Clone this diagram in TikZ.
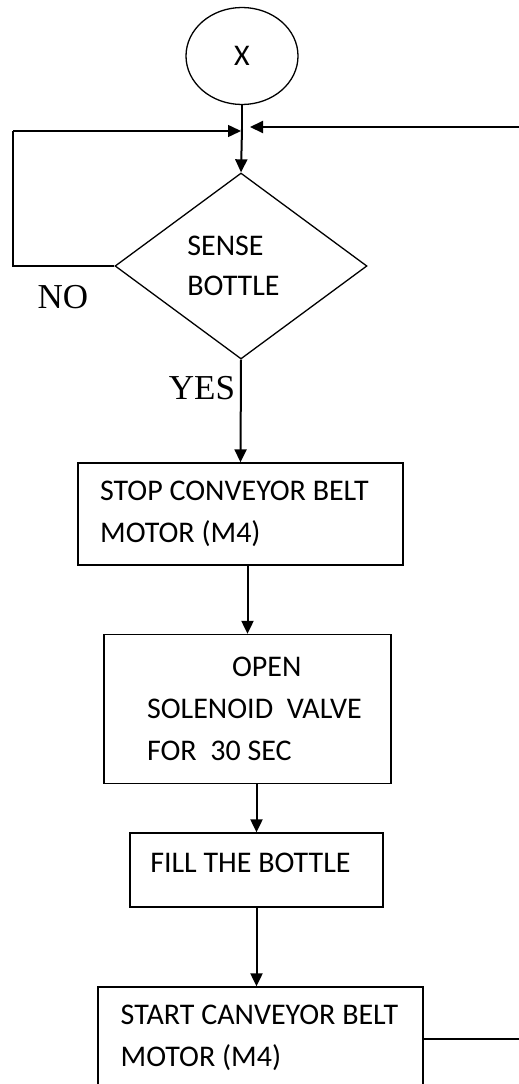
\documentclass[tikz,border=0pt]{standalone}
\usepackage{fontspec}
\setmainfont{Carlito}
\newfontfamily\answerfont{Liberation Serif}
\usetikzlibrary{arrows.meta,shapes.geometric,calc}

\begin{document}
\begin{tikzpicture}[x=1pt,y=-1pt,
    box/.style={draw, rectangle, line width=1.3pt, inner sep=0pt, align=left,
        font=\fontsize{30}{42}\selectfont},
    flow/.style={line width=2pt, -{Triangle[length=13pt,width=12pt]}},
    loop/.style={line width=1.5pt},
    answer/.style={font=\answerfont\fontsize{35}{35}\selectfont, inner sep=0pt}]

% Page (the picture is cut at the right and at the bottom)
\clip (0,0) rectangle (519,1084);

% Start point
\node[draw, ellipse, line width=1.3pt, minimum width=112pt, minimum height=97pt,
    inner sep=0pt, font=\fontsize{30}{35}\selectfont] (start) at (242,56) {X};

% Junction and decision
\coordinate (jn) at (242,129);
\node[draw, diamond, line width=1.3pt, aspect=1.355, minimum width=252pt,
    minimum height=186pt, inner sep=0pt, align=left,
    font=\fontsize{30}{40}\selectfont] (sense) at (241,266) {SENSE\\BOTTLE\hspace*{15pt}};

% Process boxes
\node[box, minimum width=325pt, minimum height=102pt] (stop) at (240.5,514)
    {STOP CONVEYOR BELT\hspace*{12pt}\\MOTOR (M4)};
\node[box, minimum width=287pt, minimum height=149pt] (valve) at (247.5,709)
    {\hspace*{99pt}OPEN\\\hspace*{14pt}SOLENOID\ \ VALVE\\\hspace*{14pt}FOR\ \ 30 SEC};
\node[box, minimum width=253pt, minimum height=74pt, text depth=14pt] (fill) at (256.5,870)
    {FILL THE BOTTLE\hspace*{12pt}};
\node[box, minimum width=325pt, minimum height=102pt] (startb) at (260.5,1038)
    {START CANVEYOR BELT\hspace*{2pt}\\MOTOR (M4)};

% Answers
\node[answer] (no) at (63,297) {NO};
\node[answer] (yes) at (202,388) {YES};

% Free ends of the loops
\coordinate (loopL) at (13,131);
\coordinate (fbIn) at (519,127);
\coordinate (fbOut) at (519,1039);

% Connectors
\draw[line width=2pt] (start) -- (jn);
\draw[flow] (jn) -- (sense.north);
\draw[loop] (sense.west) -| (loopL);
\draw[loop, -{Triangle[length=13pt,width=12pt]}] (loopL) -- ($(jn)+(-1,2)$);
\draw[flow] (fbIn) -- ($(jn)+(8,-2)$);
\draw[flow] (sense.south) -- (stop.north);
\draw[flow] (valve.north |- stop.south) -- (valve.north);
\draw[flow] (fill.north |- valve.south) -- (fill.north);
\draw[flow] (fill.south) -- (fill.south |- startb.north);
\draw[loop] (startb.east |- fbOut) -- (fbOut);

\end{tikzpicture}
\end{document}
